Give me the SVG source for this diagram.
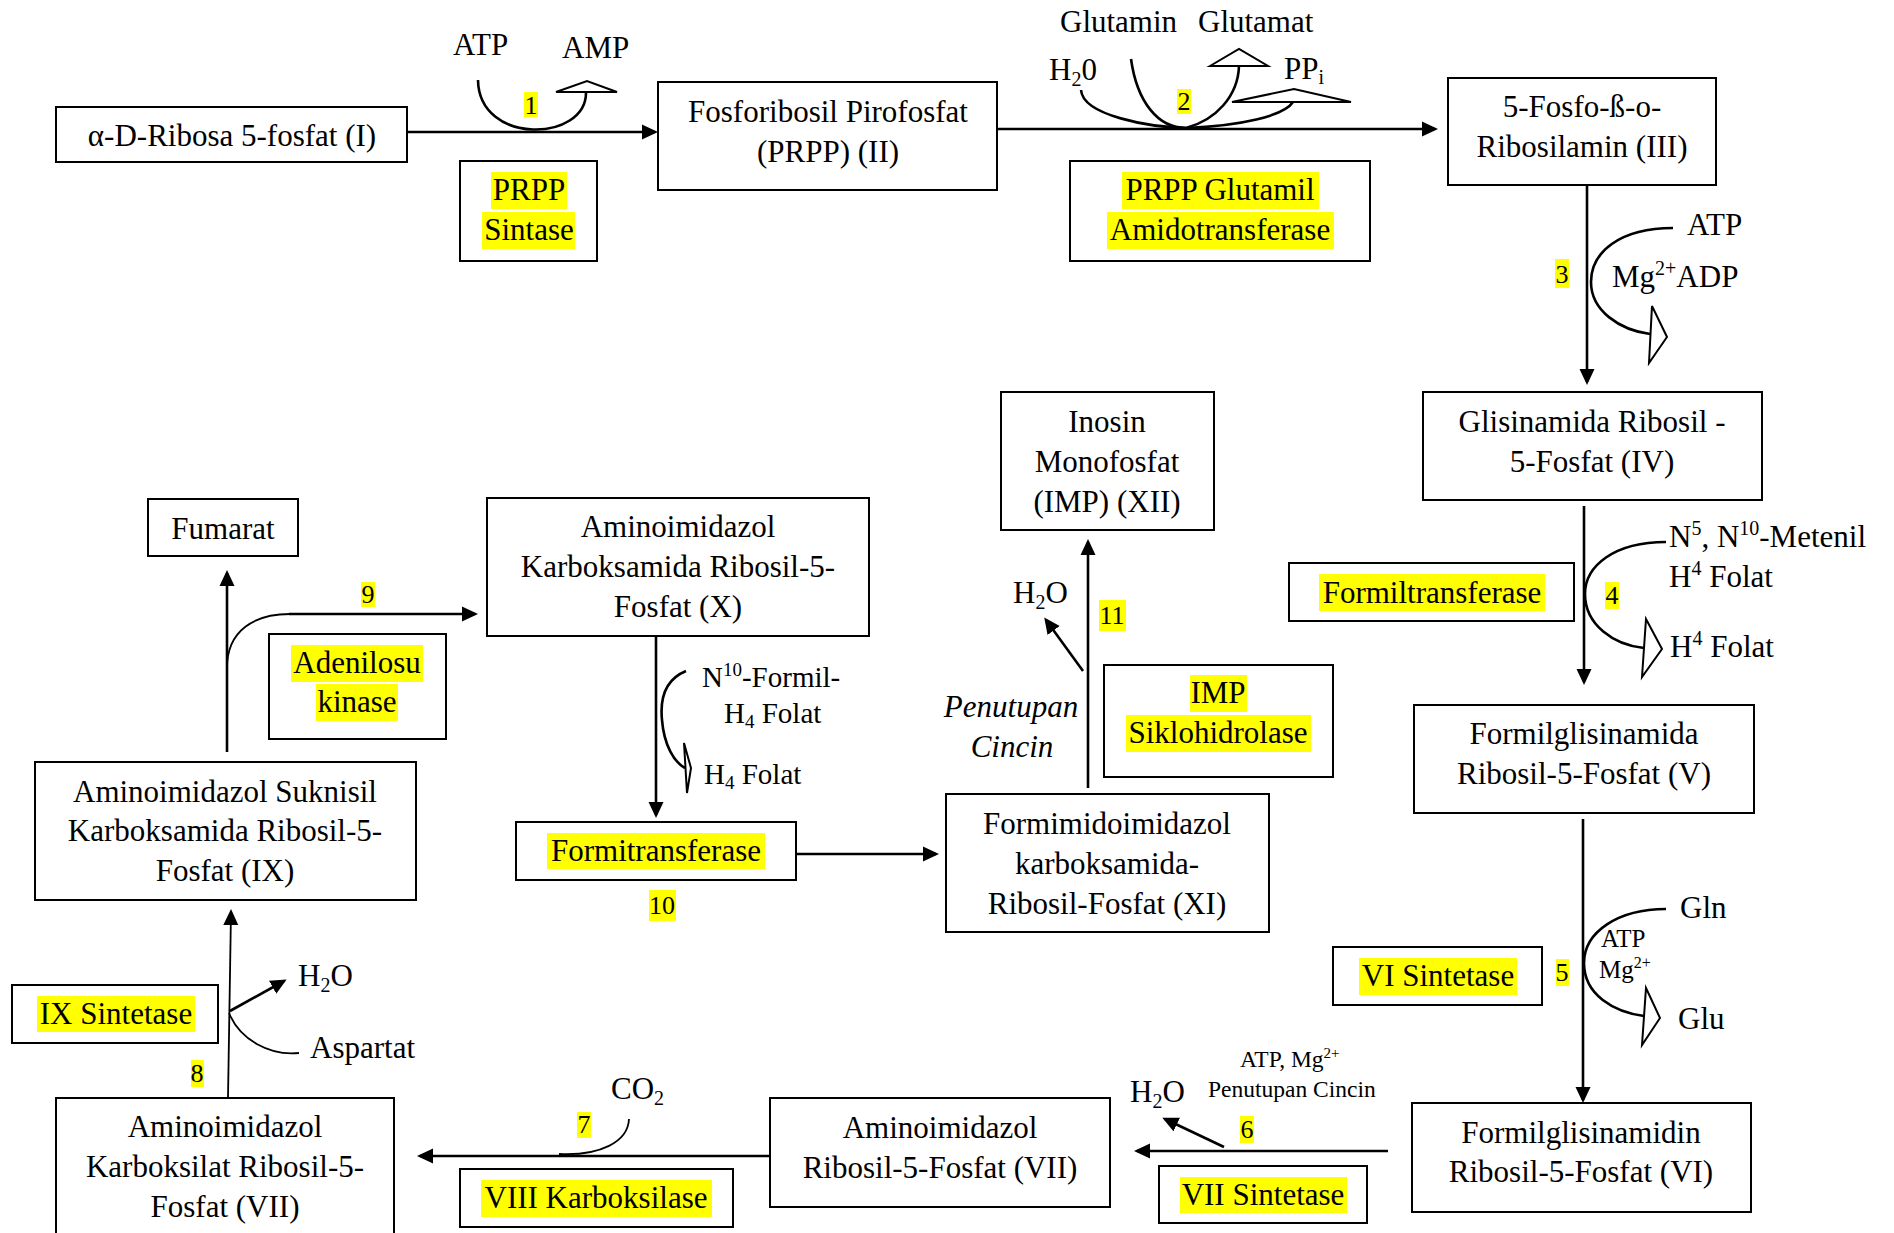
<svg xmlns="http://www.w3.org/2000/svg" width="1894" height="1233" viewBox="0 0 1894 1233">
<defs>
<style>
text{font-family:"Liberation Serif","Times New Roman",serif;font-size:31px;fill:#000}
.c{text-anchor:middle}
.box{fill:#fff;stroke:#000;stroke-width:2}
.hl{fill:#ffff00;stroke:none}
.num{font-size:26px;text-anchor:middle}
.ln{fill:none;stroke:#000;stroke-width:2.6}
.thin{fill:none;stroke:#000;stroke-width:1.8}
.arr{marker-end:url(#ah)}
.hollow{fill:#fff;stroke:#000;stroke-width:2}
.it{font-style:italic}
.sm{font-size:23.5px}
.md{font-size:25px}
.f29{font-size:29px}
</style>
<marker id="ah" viewBox="0 0 16 16" refX="13" refY="8" markerWidth="16" markerHeight="16" markerUnits="userSpaceOnUse" orient="auto">
<path d="M0,0.5 L16,8 L0,15.5 z" fill="#000"/>
</marker>
</defs>
<rect width="1894" height="1233" fill="#fff"/>

<g id="connectors">
<!-- step 1 -->
<line class="ln arr" x1="408" y1="132" x2="655" y2="132"/>
<path class="ln" d="M478,80 C479,146 587,142 586,92"/>
<polygon class="hollow" points="556,92 587,81 617,92"/>
<!-- step 2 -->
<line class="ln arr" x1="997" y1="129" x2="1435" y2="129"/>
<path class="ln" d="M1081,90 C1083,116 1150,127 1186,128"/>
<path class="ln" d="M1131,59 C1137,102 1158,128 1186,128"/>
<path class="ln" d="M1186,128 C1216,120 1238,96 1239,66"/>
<polygon class="hollow" points="1210,66 1239,49 1268,66"/>
<path class="ln" d="M1186,128 C1240,126 1284,116 1293,102"/>
<polygon class="hollow" points="1232,102 1294,89 1351,102"/>
<!-- step 3 -->
<line class="ln arr" x1="1587" y1="185" x2="1587" y2="382"/>
<path class="ln" d="M1673,228 C1620,228 1591,252 1591,282 C1591,311 1620,330 1650,334"/>
<polygon class="hollow" points="1652,306 1667,337 1649,363"/>
<!-- step 4 -->
<line class="ln arr" x1="1584" y1="506" x2="1584" y2="682"/>
<path class="ln" d="M1666,542 C1614,542 1585,566 1585,594 C1585,625 1614,645 1644,648"/>
<polygon class="hollow" points="1646,619 1662,649 1642,677"/>
<!-- step 5 -->
<line class="ln arr" x1="1583" y1="819" x2="1583" y2="1100"/>
<path class="ln" d="M1666,909 C1618,909 1584,932 1584,963 C1584,995 1614,1012 1644,1016"/>
<polygon class="hollow" points="1646,988 1660,1018 1642,1045"/>
<!-- step 6 -->
<line class="ln arr" x1="1388" y1="1151" x2="1137" y2="1151"/>
<line class="ln arr" x1="1224" y1="1147" x2="1165" y2="1119"/>
<!-- step 7 -->
<line class="ln arr" x1="770" y1="1156" x2="420" y2="1156"/>
<path class="thin" d="M629,1119 C628,1142 600,1156 559,1154"/>
<!-- step 8 -->
<line class="thin arr" x1="228" y1="1098" x2="231" y2="912"/>
<line class="ln arr" x1="230" y1="1011" x2="284" y2="981"/>
<path class="thin" d="M229,1013 C240,1040 270,1056 299,1053"/>
<!-- step 9 -->
<line class="ln arr" x1="227" y1="752" x2="227" y2="573"/>
<path class="thin" d="M227,668 C227,630 255,614 290,614"/>
<line class="ln arr" x1="289" y1="614" x2="475" y2="614"/>
<!-- step 10 -->
<line class="ln arr" x1="656" y1="631" x2="656" y2="815"/>
<path class="ln" d="M686,671 C664,680 660,700 662,720 C664,745 674,762 685,768"/>
<polygon class="hollow" points="684,743 691,768 687,793"/>
<line class="ln arr" x1="796" y1="854" x2="936" y2="854"/>
<!-- step 11 -->
<line class="ln arr" x1="1088" y1="788" x2="1088" y2="542"/>
<line class="ln arr" x1="1083" y1="671" x2="1046" y2="620"/>
</g>

<g id="node-I"><rect class="box" x="56" y="107" width="351" height="55"/><text class="c" x="232" y="146">α-D-Ribosa 5-fosfat (I)</text></g>
<g id="node-II"><rect class="box" x="658" y="82" width="339" height="108"/><text class="c" x="828" y="122">Fosforibosil Pirofosfat</text><text class="c" x="828" y="162">(PRPP) (II)</text></g>
<g id="node-III"><rect class="box" x="1448" y="78" width="268" height="107"/><text class="c" x="1582" y="117">5-Fosfo-ß-o-</text><text class="c" x="1582" y="157">Ribosilamin (III)</text></g>
<g id="node-IV"><rect class="box" x="1423" y="392" width="339" height="108"/><text class="c" x="1592" y="432">Glisinamida Ribosil -</text><text class="c" x="1592" y="472">5-Fosfat (IV)</text></g>
<g id="node-V"><rect class="box" x="1414" y="705" width="340" height="108"/><text class="c" x="1584" y="744">Formilglisinamida</text><text class="c" x="1584" y="784">Ribosil-5-Fosfat (V)</text></g>
<g id="node-VI"><rect class="box" x="1412" y="1103" width="339" height="109"/><text class="c" x="1581" y="1143">Formilglisinamidin</text><text class="c" x="1581" y="1182">Ribosil-5-Fosfat (VI)</text></g>
<g id="node-VII"><rect class="box" x="770" y="1098" width="340" height="109"/><text class="c" x="940" y="1138">Aminoimidazol</text><text class="c" x="940" y="1178">Ribosil-5-Fosfat (VII)</text></g>
<g id="node-VIII"><rect class="box" x="56" y="1098" width="338" height="150"/><text class="c" x="225" y="1137">Aminoimidazol</text><text class="c" x="225" y="1177">Karboksilat Ribosil-5-</text><text class="c" x="225" y="1217">Fosfat (VII)</text></g>
<g id="node-IX"><rect class="box" x="35" y="762" width="381" height="138"/><text class="c" x="225" y="802">Aminoimidazol Suknisil</text><text class="c" x="225" y="841">Karboksamida Ribosil-5-</text><text class="c" x="225" y="881">Fosfat (IX)</text></g>
<g id="node-fumarat"><rect class="box" x="148" y="499" width="150" height="57"/><text class="c" x="223" y="539">Fumarat</text></g>
<g id="node-X"><rect class="box" x="487" y="498" width="382" height="138"/><text class="c" x="678" y="537">Aminoimidazol</text><text class="c" x="678" y="577">Karboksamida Ribosil-5-</text><text class="c" x="678" y="617">Fosfat (X)</text></g>
<g id="node-XI"><rect class="box" x="946" y="794" width="323" height="138"/><text class="c" x="1107" y="834">Formimidoimidazol</text><text class="c" x="1107" y="874">karboksamida-</text><text class="c" x="1107" y="914">Ribosil-Fosfat (XI)</text></g>
<g id="node-XII"><rect class="box" x="1001" y="392" width="213" height="138"/><text class="c" x="1107" y="432">Inosin</text><text class="c" x="1107" y="472">Monofosfat</text><text class="c" x="1107" y="512">(IMP) (XII)</text></g>

<g id="enzyme-1"><rect class="box" x="460" y="161" width="137" height="100"/><rect class="hl" x="491" y="172" width="76" height="37"/><rect class="hl" x="482" y="212" width="93" height="37"/><text class="c" x="529" y="200">PRPP</text><text class="c" x="529" y="240">Sintase</text></g>
<g id="enzyme-2"><rect class="box" x="1070" y="161" width="300" height="100"/><rect class="hl" x="1122" y="172" width="197" height="37"/><rect class="hl" x="1107" y="212" width="227" height="37"/><text class="c" x="1220" y="200">PRPP Glutamil</text><text class="c" x="1220" y="240">Amidotransferase</text></g>
<g id="enzyme-4"><rect class="box" x="1289" y="563" width="285" height="58"/><rect class="hl" x="1319" y="574" width="226" height="37"/><text class="c" x="1432" y="603">Formiltransferase</text></g>
<g id="enzyme-5"><rect class="box" x="1333" y="947" width="209" height="58"/><rect class="hl" x="1359" y="958" width="158" height="37"/><text class="c" x="1438" y="986">VI Sintetase</text></g>
<g id="enzyme-6"><rect class="box" x="1159" y="1166" width="208" height="57"/><rect class="hl" x="1180" y="1177" width="167" height="36"/><text class="c" x="1263" y="1205">VII Sintetase</text></g>
<g id="enzyme-7"><rect class="box" x="460" y="1169" width="273" height="58"/><rect class="hl" x="481" y="1180" width="231" height="37"/><text class="c" x="596" y="1208">VIII Karboksilase</text></g>
<g id="enzyme-8"><rect class="box" x="12" y="985" width="206" height="58"/><rect class="hl" x="37" y="996" width="158" height="36"/><text class="c" x="116" y="1024">IX Sintetase</text></g>
<g id="enzyme-9"><rect class="box" x="269" y="634" width="177" height="105"/><rect class="hl" x="291" y="645" width="132" height="37"/><rect class="hl" x="316" y="684" width="82" height="37"/><text class="c" x="357" y="673">Adenilosu</text><text class="c" x="357" y="712">kinase</text></g>
<g id="enzyme-10"><rect class="box" x="516" y="822" width="280" height="58"/><rect class="hl" x="547" y="833" width="218" height="36"/><text class="c" x="656" y="861">Formitransferase</text></g>
<g id="enzyme-11"><rect class="box" x="1104" y="665" width="229" height="112"/><rect class="hl" x="1190" y="675" width="57" height="37"/><rect class="hl" x="1126" y="715" width="185" height="37"/><text class="c" x="1218" y="703">IMP</text><text class="c" x="1218" y="743">Siklohidrolase</text></g>

<g id="step-labels">
<rect class="hl" x="524" y="92" width="14" height="25"/><text class="num" x="531" y="114">1</text>
<rect class="hl" x="1177" y="89" width="14" height="25"/><text class="num" x="1184" y="110">2</text>
<rect class="hl" x="1555" y="259" width="14" height="29"/><text class="num" x="1562" y="283">3</text>
<rect class="hl" x="1605" y="582" width="14" height="27"/><text class="num" x="1612" y="604">4</text>
<rect class="hl" x="1556" y="959" width="13" height="27"/><text class="num" x="1562" y="981">5</text>
<rect class="hl" x="1240" y="1116" width="14" height="27"/><text class="num" x="1247" y="1138">6</text>
<rect class="hl" x="577" y="1112" width="14" height="26"/><text class="num" x="584" y="1133">7</text>
<rect class="hl" x="191" y="1060" width="13" height="27"/><text class="num" x="197" y="1082">8</text>
<rect class="hl" x="361" y="582" width="14" height="25"/><text class="num" x="368" y="603">9</text>
<rect class="hl" x="649" y="890" width="27" height="31"/><text class="num" x="662" y="914">10</text>
<rect class="hl" x="1099" y="600" width="27" height="31"/><text class="num" x="1112" y="624">11</text>
</g>

<g id="cofactors">
<text x="453" y="55">ATP</text>
<text x="562" y="58">AMP</text>
<text x="1060" y="32">Glutamin</text>
<text x="1198" y="32">Glutamat</text>
<text x="1049" y="80">H<tspan dy="6" font-size="20">2</tspan><tspan dy="-6">0</tspan></text>
<text x="1284" y="79">PP<tspan dy="5" font-size="20">i</tspan></text>
<text x="1687" y="235">ATP</text>
<text x="1612" y="287">Mg<tspan dy="-12" font-size="20">2+</tspan><tspan dy="12">ADP</tspan></text>
<text x="1669" y="547">N<tspan dy="-12" font-size="20">5</tspan><tspan dy="12">, N</tspan><tspan dy="-12" font-size="20">10</tspan><tspan dy="12">-Metenil</tspan></text>
<text x="1669" y="587">H<tspan dy="-12" font-size="20">4</tspan><tspan dy="12"> Folat</tspan></text>
<text x="1670" y="657">H<tspan dy="-12" font-size="20">4</tspan><tspan dy="12"> Folat</tspan></text>
<text x="1680" y="918">Gln</text>
<text x="1678" y="1029">Glu</text>
<text class="md" x="1601" y="947">ATP</text>
<text class="md" x="1599" y="978">Mg<tspan dy="-10" font-size="16">2+</tspan></text>
<text class="sm" x="1240" y="1067">ATP, Mg<tspan dy="-9" font-size="15">2+</tspan></text>
<text class="sm" x="1208" y="1097">Penutupan Cincin</text>
<text x="1130" y="1102">H<tspan dy="6" font-size="20">2</tspan><tspan dy="-6">O</tspan></text>
<text x="611" y="1099">CO<tspan dy="6" font-size="20">2</tspan></text>
<text x="298" y="986">H<tspan dy="6" font-size="20">2</tspan><tspan dy="-6">O</tspan></text>
<text x="310" y="1058">Aspartat</text>
<text class="f29" x="702" y="687">N<tspan dy="-11" font-size="19">10</tspan><tspan dy="11">-Formil-</tspan></text>
<text class="f29" x="724" y="723">H<tspan dy="5" font-size="19">4</tspan><tspan dy="-5"> Folat</tspan></text>
<text class="f29" x="704" y="784">H<tspan dy="5" font-size="19">4</tspan><tspan dy="-5"> Folat</tspan></text>
<text x="1013" y="603">H<tspan dy="6" font-size="20">2</tspan><tspan dy="-6">O</tspan></text>
<text class="c it" x="1011" y="717">Penutupan</text>
<text class="c it" x="1012" y="757">Cincin</text>
</g>
</svg>
